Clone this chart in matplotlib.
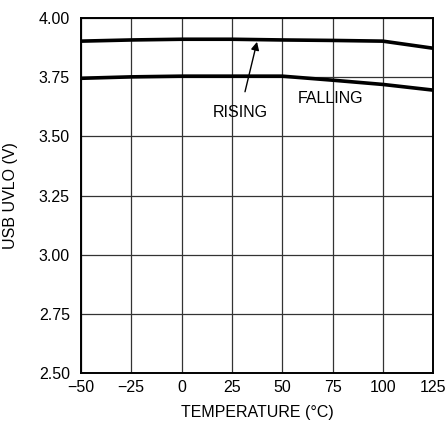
import matplotlib
matplotlib.use("Agg")
import matplotlib.pyplot as plt

plt.rcParams['font.family'] = ['Liberation Sans', 'DejaVu Sans']

temp = [-50, -25, 0, 25, 50, 75, 100, 125]
rising = [3.903, 3.908, 3.911, 3.911, 3.908, 3.906, 3.903, 3.873]
falling = [3.746, 3.752, 3.755, 3.755, 3.755, 3.738, 3.720, 3.696]

xticks = [-50, -25, 0, 25, 50, 75, 100, 125]
xticklabels = ['\u221250', '\u221225', '0', '25', '50', '75', '100', '125']
yticks = [2.50, 2.75, 3.00, 3.25, 3.50, 3.75, 4.00]

fig = plt.figure(figsize=(4.47, 4.23), dpi=100)
ax = fig.add_axes([0.181, 0.118, 0.788, 0.839])

ax.plot(temp, rising, color='black', lw=2.6, solid_capstyle='butt')
ax.plot(temp, falling, color='black', lw=2.6, solid_capstyle='butt')

ax.set_xlim(-50, 125)
ax.set_ylim(2.5, 4.0)
ax.set_xticks(xticks)
ax.set_xticklabels(xticklabels)
ax.set_yticks(yticks)
ax.set_yticklabels([f"{v:.2f}" for v in yticks])
ax.tick_params(length=0, labelsize=11.5)
ax.tick_params(axis='y', pad=8)
ax.tick_params(axis='x', pad=5)
ax.grid(True, color='#333333', lw=0.9)
for s in ax.spines.values():
    s.set_linewidth(1.4)

ax.annotate('RISING', xy=(37.5, 3.90), xytext=(29, 3.60),
            ha='center', va='center', fontsize=11.5,
            arrowprops=dict(arrowstyle='-|>', color='black', lw=1.0,
                            mutation_scale=12, shrinkA=8, shrinkB=0))
ax.text(74, 3.66, 'FALLING', ha='center', va='center', fontsize=11.5)

ax.set_xlabel('TEMPERATURE (\u00b0C)', fontsize=11.5, labelpad=7)
ax.set_ylabel('USB UVLO (V)', fontsize=11.5, va='center')
ax.yaxis.set_label_coords(-0.2, 0.5)

fig.savefig('out.png', dpi=100)
